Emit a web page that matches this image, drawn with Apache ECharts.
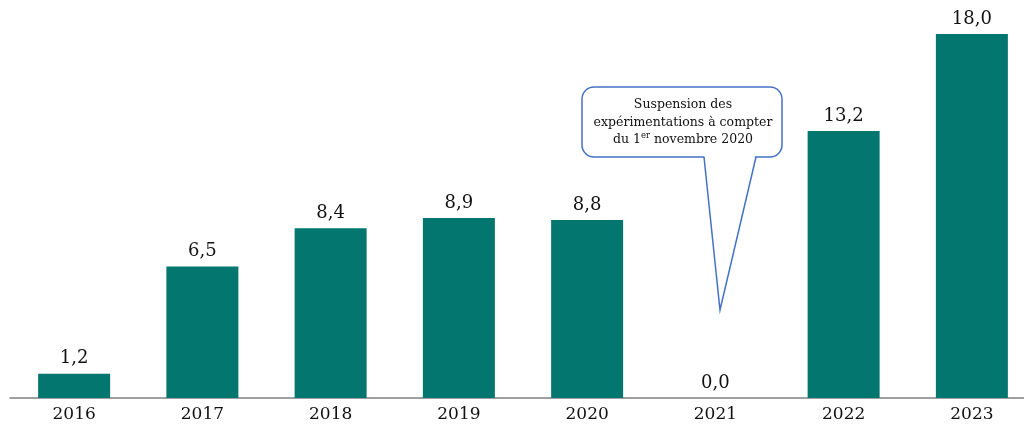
<!DOCTYPE html>
<html>
<head>
<meta charset="utf-8">
<script src="https://cdn.jsdelivr.net/npm/echarts@6/dist/echarts.min.js"></script>
<style>
  html, body { margin: 0; padding: 0; background: #fff; }
  #chart { width: 1024px; height: 430px; }
</style>
</head>
<body>
<div id="chart"></div>
<script>
const years = ["2016", "2017", "2018", "2019", "2020", "2021", "2022", "2023"];
const values = [1.2, 6.5, 8.4, 8.9, 8.8, 0.0, 13.2, 18.0];
const noteLines = ["Suspension des", "expérimentations à compter", "du 1{sup|er} novembre 2020"];

const serif = "'DejaVu Serif', 'Liberation Serif', serif";
const fmt = (v) => v.toFixed(1).replace(".", ",");

const myChart = echarts.init(document.getElementById("chart"));

const option = {
  animation: false,
  grid: { left: 10, width: 1026, top: 34, bottom: 32, containLabel: false, outerBoundsMode: "none" },
  xAxis: {
    type: "category",
    data: years,
    axisLine: { lineStyle: { color: "#808080", width: 1.5 } },
    axisTick: { show: false },
    axisLabel: { color: "#111", fontFamily: serif, fontSize: 17, margin: 8 },
  },
  yAxis: {
    type: "value",
    min: 0,
    max: 18,
    show: false,
    splitLine: { show: false },
  },
  series: [
    {
      type: "bar",
      data: values,
      barWidth: 72,
      itemStyle: { color: "#03766f" },
      label: {
        show: true,
        position: "top",
        distance: 6,
        color: "#111",
        fontFamily: serif,
        fontSize: 18,
        formatter: (p) => fmt(p.value),
      },
    },
  ],
  graphic: [
    {
      type: "rect",
      shape: { x: 582, y: 87, width: 200, height: 70, r: 12 },
      style: { fill: "#fff", stroke: "#4472c4", lineWidth: 1.5 },
      z: 10,
    },
    {
      type: "polygon",
      shape: { points: [[704, 152], [756, 152], [720, 310]] },
      style: { fill: "#fff" },
      z: 11,
    },
    {
      type: "polyline",
      shape: { points: [[704, 157], [720, 310], [756, 157]] },
      style: { stroke: "#4472c4", lineWidth: 1.5, fill: null },
      z: 12,
    },
    {
      type: "text",
      x: 683,
      y: 96,
      z: 13,
      style: {
        text: noteLines.join("\n"),
        align: "center",
        fontFamily: serif,
        fontSize: 12.5,
        lineHeight: 17.5,
        fill: "#111",
        rich: {
          sup: { fontSize: 8.5, verticalAlign: "top", lineHeight: 17.5, fontFamily: serif, fill: "#111", padding: [0, 0, 5, 0] },
        },
      },
    },
  ],
};

myChart.setOption(option, true);
window.onresize = function () {
  myChart.resize();
};
</script>
</body>
</html>
